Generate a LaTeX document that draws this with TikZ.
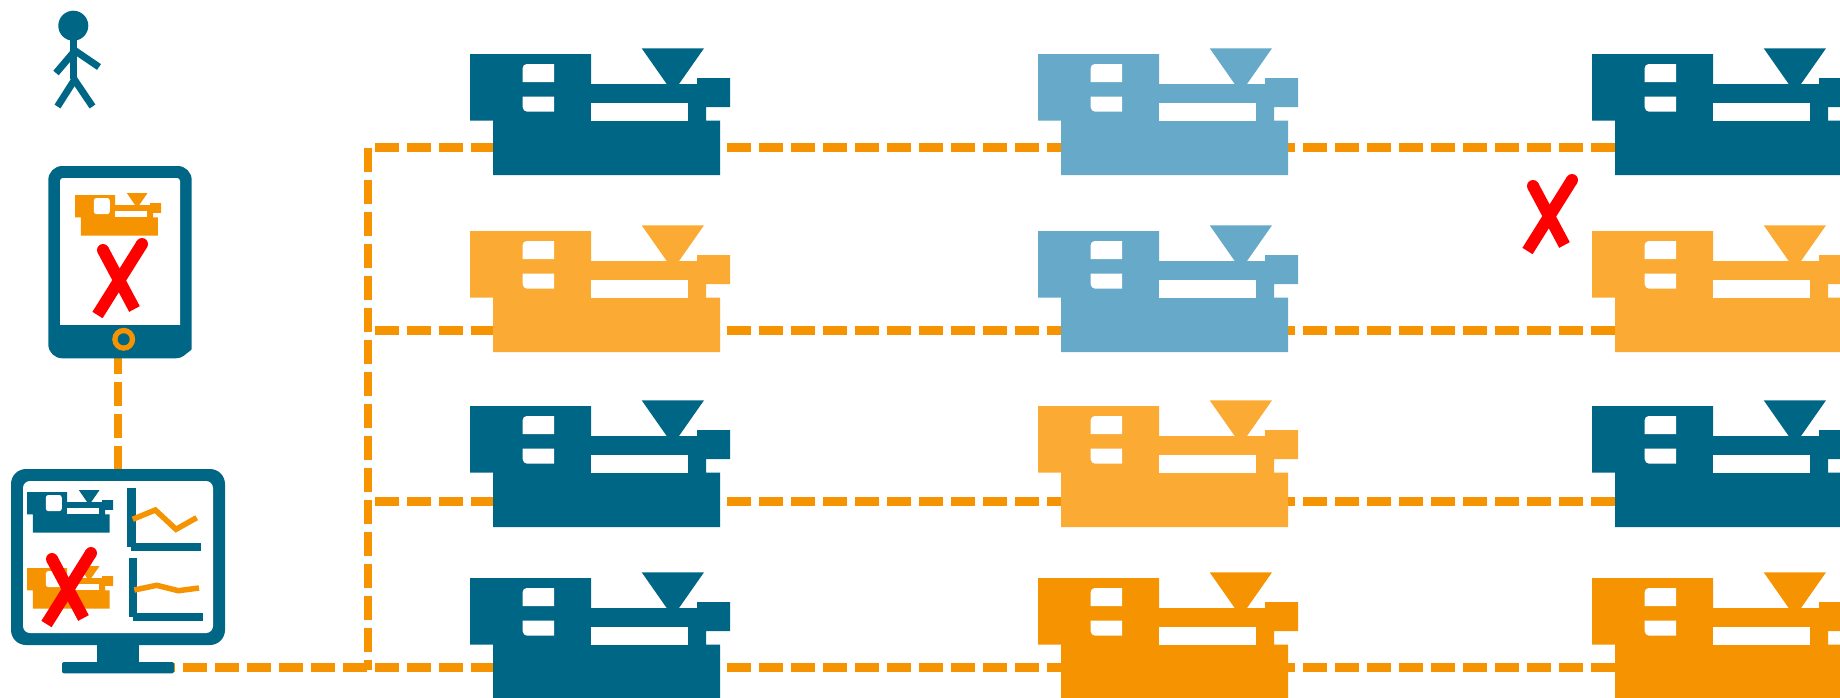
\documentclass[tikz,border=0pt]{standalone}
\definecolor{teal}{HTML}{006685}
\definecolor{orng}{HTML}{F59300}
\definecolor{lorng}{HTML}{FBAA33}
\definecolor{lblue}{HTML}{66A9C8}
\tikzset{
  x=1pt,y=-1pt,
  dash line/.style={draw=orng,line width=8.8pt,dash pattern=on 24.3pt off 7.7pt},
}
% #1 colour, #2 hopper shift, #3 base left edge
\newcommand{\machinebody}[3]{%
  \fill[#1] (0,0) -- (121,0) -- (121,30) -- (196.7+#2,30) -- (171.7+#2,-5.7) -- (234+#2,-5.7) -- (209+#2,30) -- (227,30) -- (227,24) -- (260,24) -- (260,53) -- (236,53) -- (236,66.7) -- (250,66.7) -- (250,121) -- (#3,121) -- (#3,66.7) -- (0,66.7) -- cycle;
  \fill[white] (121,48.7) rectangle (218,66.7);}
\newcommand{\bigmachine}[3]{%
  \begin{scope}[shift={(#1,#2)}]
    \machinebody{#3}{0}{23.2}
    \fill[white] (84,10) -- (56.7,10) arc[start angle=90,end angle=180,x radius=4,y radius=-4] -- (52.7,28) -- (84,28) -- cycle;
    \fill[white] (84,42.7) -- (52.7,42.7) -- (52.7,53.2) arc[start angle=180,end angle=270,x radius=4.5,y radius=-4.5] -- (84,57.7) -- cycle;
  \end{scope}}
\newcommand{\smallmachine}[3]{%
  \begin{scope}[shift={(#1,#2)},xscale=.331,yscale=.336]
    \machinebody{#3}{-15}{18}
    \fill[white,rounded corners=2.5pt] (57,9) rectangle (105,57);
  \end{scope}}
\newcommand{\redx}[2]{%
  \begin{scope}[shift={(#1,#2)}]
    \draw[red,line width=12pt] (0,0) -- (31.5,59);
    \draw[red,line width=12pt] (39,-6) -- (-5.5,65);
    \fill[red] (0,0) circle (6pt);
    \fill[red] (39,-6) circle (6pt);
  \end{scope}}
\begin{document}
\begin{tikzpicture}
\useasboundingbox (0,0) rectangle (1840,697);
\begin{scope}
\clip (0,0) rectangle (1840,697);
% connectors
\coordinate (top) at (368,147.5);
\coordinate (bot) at (368,669.5);
\coordinate (monout) at (151,667.5);
\coordinate (botl) at (367,667.5);
\coordinate (r1a) at (375,147.5);
\coordinate (r1b) at (1616,147.5);
\coordinate (r2a) at (375,330.3);
\coordinate (r2b) at (1616,330.3);
\coordinate (r3a) at (375,501.5);
\coordinate (r3b) at (1616,501.5);
\coordinate (r4a) at (375,667.5);
\coordinate (r4b) at (1616,667.5);
\coordinate (taba) at (118,349.7);
\coordinate (monb) at (118,470);
\draw[dash line] (top) -- (bot);
\draw[dash line] (monout) -- (botl);
\draw[dash line] (r1a) -- (r1b);
\draw[dash line] (r2a) -- (r2b);
\draw[dash line] (r3a) -- (r3b);
\draw[dash line] (r4a) -- (r4b);
\draw[dash line] (taba) -- (monb);
% machines
\bigmachine{470}{54}{teal}
\bigmachine{1038}{54}{lblue}
\bigmachine{1592}{54}{teal}
\bigmachine{470}{231}{lorng}
\bigmachine{1038}{231}{lblue}
\bigmachine{1592}{231}{lorng}
\bigmachine{470}{406}{teal}
\bigmachine{1038}{406}{lorng}
\bigmachine{1592}{406}{teal}
\bigmachine{470}{578}{teal}
\bigmachine{1038}{578}{orng}
\bigmachine{1592}{578}{orng}
% person
\fill[teal] (73.3,25.7) circle (15pt);
\begin{scope}[teal,line width=7pt]
\draw (73.5,38) -- (73.5,79);
\draw (74,50) -- (99,67);
\draw (73,53) -- (56,73);
\draw (75,79) -- (57.5,106.5);
\draw (74,79) -- (92.5,106.5);
\end{scope}
% tablet
\fill[teal,rounded corners=14pt] (100,358.3) -- (48.3,358.3) -- (48.3,166) -- (191.7,166) [sharp corners] -- (191.7,349) -- (190.5,350.5) .. controls (185,354) and (183,358.3) .. (176,358.3) -- cycle;
\fill[white,rounded corners=3pt] (60,178) -- (180,178) -- (180,330) -- (60,330) -- cycle;
\fill[teal] (55,324.7) rectangle (185,340);
\fill[orng] (123.7,339.3) circle (11.5pt);
\fill[teal] (123.7,339.3) circle (6pt);
\smallmachine{75}{195}{orng}
\redx{103}{250}
% monitor
\fill[teal,rounded corners=15pt] (11,469) rectangle (225,645);
\fill[white,rounded corners=7pt] (23,481) rectangle (213,633);
\fill[teal] (97,640) rectangle (139,664);
\fill[teal,rounded corners=2pt] (62,662) rectangle (174,673.3);
\smallmachine{27}{492}{teal}
\smallmachine{27}{568}{orng}
\fill[teal] (127.3,488) rectangle (135.7,546.7);
\fill[teal] (131,543) rectangle (201,550.7);
\fill[teal] (129.3,558.3) rectangle (137.3,616.7);
\fill[teal] (133,613.3) rectangle (203,621.3);
\draw[orng,line width=5.5pt] (132.7,519.3) -- (155.3,510) -- (176,529.3) -- (196.7,517.7);
\draw[orng,line width=5.5pt] (134.3,590) -- (156.7,585.3) -- (178.3,590.7) -- (199,588);
\redx{52}{559}
\redx{1533}{186}
\end{scope}
\end{tikzpicture}
\end{document}
